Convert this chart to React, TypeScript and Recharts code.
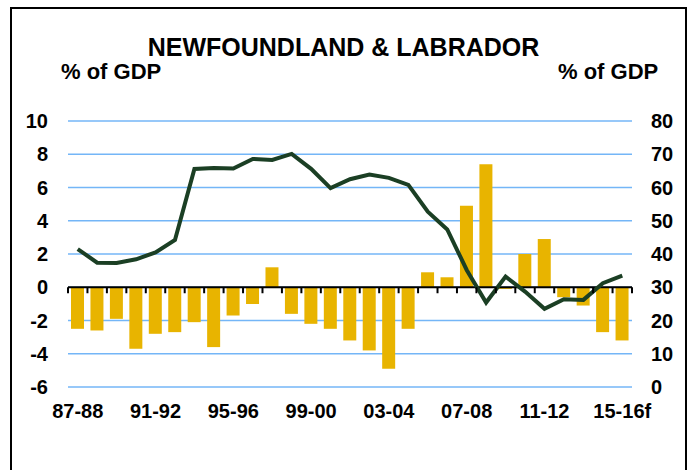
import { ComposedChart, Bar, Line, XAxis, YAxis, CartesianGrid, ReferenceLine } from 'recharts';

const years = [
  '87-88', '88-89', '89-90', '90-91', '91-92', '92-93', '93-94', '94-95', '95-96', '96-97',
  '97-98', '98-99', '99-00', '00-01', '01-02', '02-03', '03-04', '04-05', '05-06', '06-07',
  '07-08', '08-09', '09-10', '10-11', '11-12', '12-13', '13-14', '14-15', '15-16f',
];

// budget balance, % of GDP (left axis)
const balance = [
  -2.5, -2.6, -1.9, -3.7, -2.8, -2.7, -2.1, -3.6, -1.7, -1.0,
  1.2, -1.6, -2.2, -2.5, -3.2, -3.8, -4.9, -2.5, 0.9, 0.6,
  4.9, 7.4, -0.1, 2.0, 2.9, -0.6, -1.1, -2.7, -3.2,
];

// net debt, % of GDP (right axis)
const debt = [
  41.5, 37.4, 37.3, 38.4, 40.5, 44.2, 65.6, 65.9, 65.7, 68.6,
  68.3, 70.1, 65.6, 59.8, 62.5, 63.9, 62.9, 60.8, 52.7, 47.4,
  35.2, 25.4, 33.2, 28.7, 23.5, 26.4, 26.2, 31.2, 33.5,
];

const leftTicks = [-6, -4, -2, 0, 2, 4, 6, 8, 10];
const rightTicks = [0, 10, 20, 30, 40, 50, 60, 70, 80];

const data = years.map((year, i) => ({ year, balance: balance[i], debt: debt[i] }));

const FONT = '"Liberation Sans", Arial, sans-serif';
const PLOT_LEFT = 68;
const PLOT_RIGHT = 632;
const PLOT_TOP = 121;
const PLOT_BOTTOM = 387;
const BAND = (PLOT_RIGHT - PLOT_LEFT) / years.length;
const ZERO_Y = PLOT_TOP + (10 / 16) * (PLOT_BOTTOM - PLOT_TOP);

const XTick = (props: any) => {
  const { x, y, payload } = props;
  const idx = payload.index ?? props.index;
  const left = x - BAND / 2;
  return (
    <g>
      <line x1={left} x2={left} y1={ZERO_Y} y2={ZERO_Y + 6} stroke="#000" strokeWidth={2} />
      {idx === years.length - 1 && (
        <line x1={x + BAND / 2} x2={x + BAND / 2} y1={ZERO_Y} y2={ZERO_Y + 6} stroke="#000" strokeWidth={2} />
      )}
      {idx % 4 === 0 && (
        <text x={x} y={y} dy="0.71em" textAnchor="middle" fontFamily={FONT} fontWeight="bold" fontSize={20} fill="#000">
          {payload.value}
        </text>
      )}
    </g>
  );
};

const tickStyle = { fill: '#000', fontSize: 20, fontWeight: 'bold', fontFamily: FONT };

export default function App() {
  return (
    <div>
      <div
        style={{
          position: 'absolute', left: 10, top: 7, width: 677, height: 480,
          border: '2px solid #000', boxSizing: 'border-box',
        }}
      />
      <div style={{ position: 'absolute', left: 0, top: 0 }}>
        <ComposedChart
          width={690}
          height={470}
          data={data}
          margin={{ top: PLOT_TOP, right: 0, bottom: 470 - PLOT_BOTTOM - 30, left: 8 }}
        >
          <CartesianGrid yAxisId="left" vertical={false} stroke="#74B6F7" strokeWidth={1.5} />
          <XAxis
            dataKey="year"
            interval={0}
            axisLine={false}
            tickLine={false}
            tickSize={0}
            tickMargin={17}
            height={30}
            tick={<XTick />}
          />
          <YAxis
            yAxisId="left"
            domain={[-6, 10]}
            ticks={leftTicks}
            width={60}
            axisLine={false}
            tickLine={false}
            tickSize={0}
            tickMargin={20}
            tick={tickStyle}
          />
          <YAxis
            yAxisId="right"
            orientation="right"
            domain={[0, 80]}
            ticks={rightTicks}
            width={58}
            axisLine={false}
            tickLine={false}
            tickSize={0}
            tickMargin={19}
            tick={tickStyle}
          />
          <Bar yAxisId="left" dataKey="balance" fill="#E8B400" barSize={13} isAnimationActive={false} />
          <ReferenceLine yAxisId="left" y={0} stroke="#000" strokeWidth={2} />
          <Line
            yAxisId="right"
            dataKey="debt"
            type="linear"
            stroke="#1B3F24"
            strokeWidth={4}
            dot={false}
            isAnimationActive={false}
          />
        </ComposedChart>
      </div>
      <div
        style={{
          position: 'absolute', left: 0, width: 687, top: 35, textAlign: 'center',
          fontFamily: FONT, fontWeight: 'bold', fontSize: 25, lineHeight: 1, color: '#000',
        }}
      >
        NEWFOUNDLAND &amp; LABRADOR
      </div>
      <div
        style={{
          position: 'absolute', left: 61, top: 61, fontFamily: FONT, fontWeight: 'bold',
          fontSize: 22, lineHeight: 1, color: '#000', whiteSpace: 'nowrap',
        }}
      >
        % of GDP
      </div>
      <div
        style={{
          position: 'absolute', left: 558, top: 61, fontFamily: FONT, fontWeight: 'bold',
          fontSize: 22, lineHeight: 1, color: '#000', whiteSpace: 'nowrap',
        }}
      >
        % of GDP
      </div>
    </div>
  );
}
